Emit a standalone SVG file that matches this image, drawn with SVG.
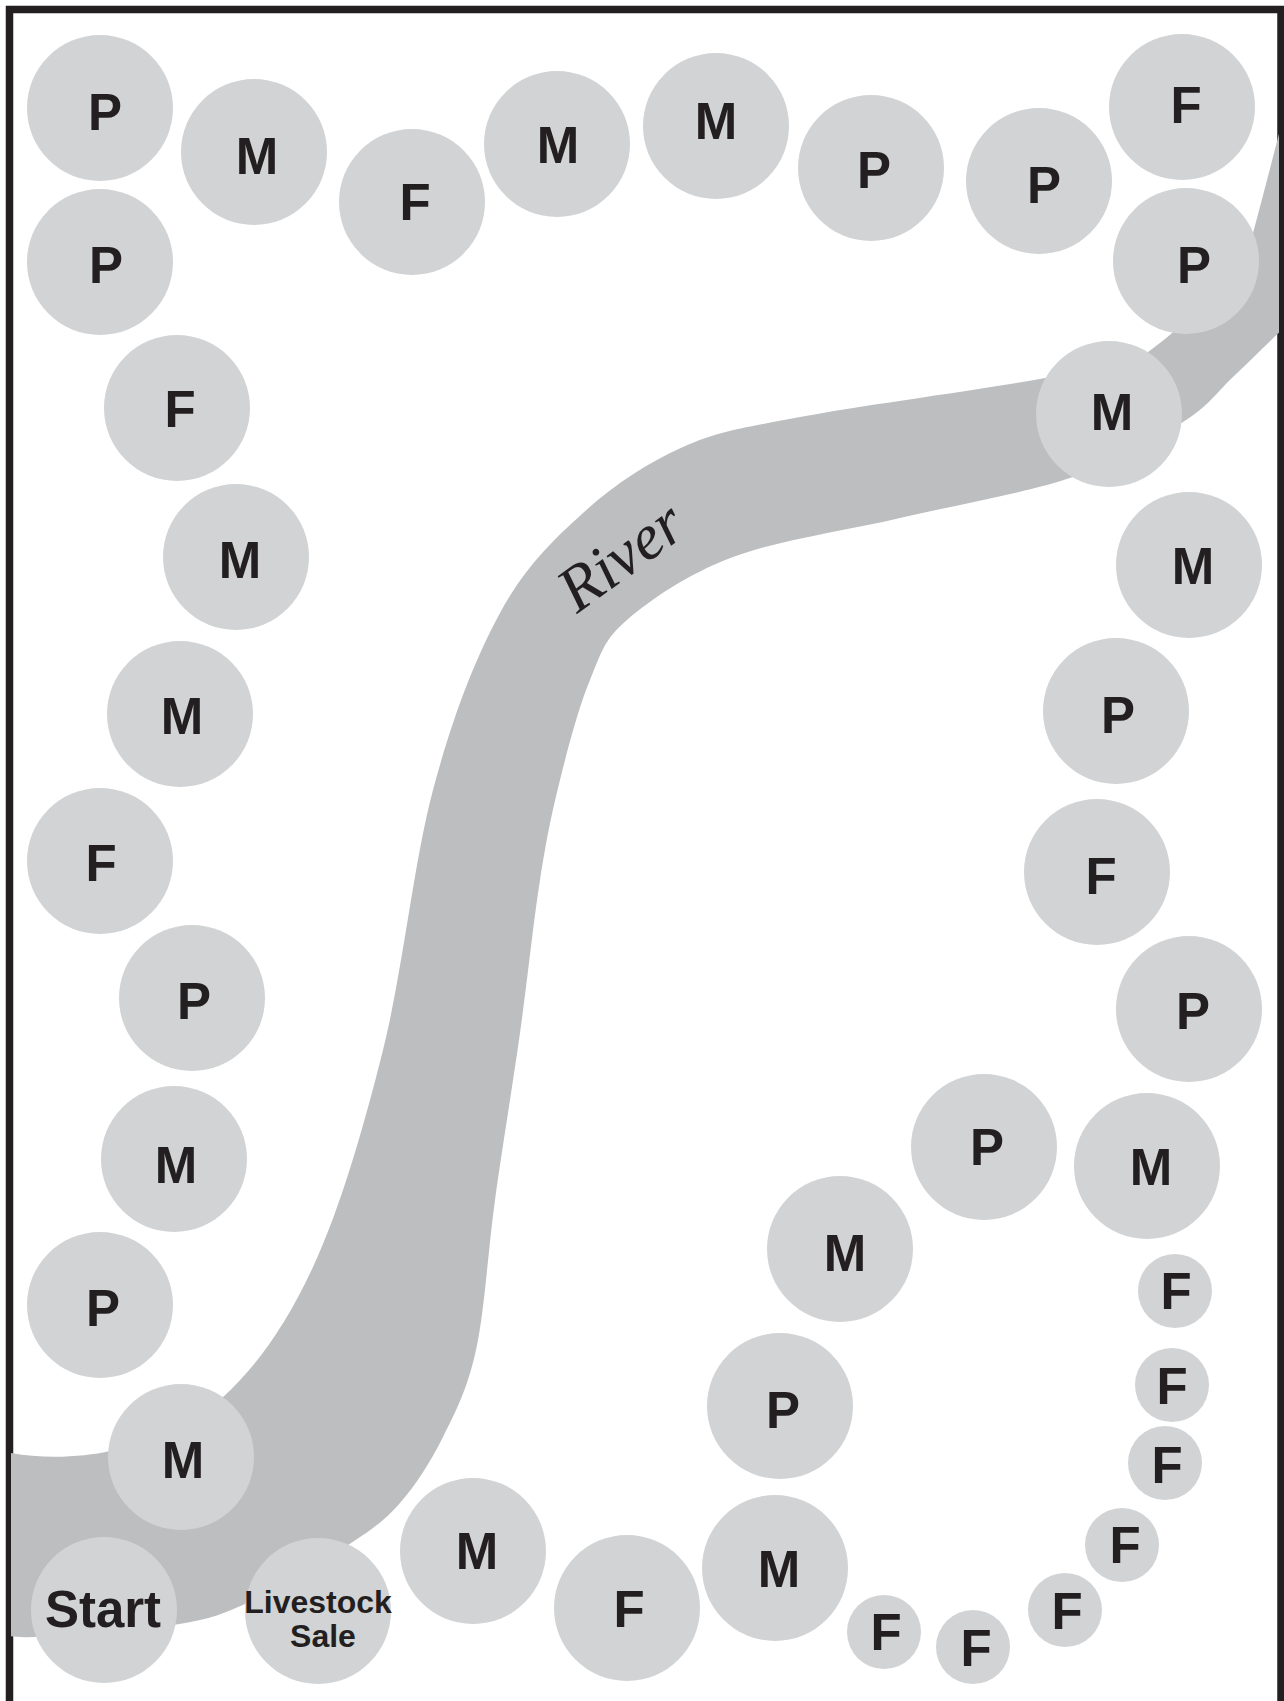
<svg xmlns="http://www.w3.org/2000/svg" width="1284" height="1701" viewBox="0 0 1284 1701">
<style>
.sp{fill:#d1d3d4}
.sm{fill:#d1d3d4}
.t{font-family:"Liberation Sans",Arial,sans-serif;font-weight:bold;font-size:51px;fill:#231f20;text-anchor:middle}
.ts{font-family:"Liberation Sans",Arial,sans-serif;font-weight:bold;font-size:32px;fill:#231f20;text-anchor:middle}
.river{fill:#bcbec0}
.rt{font-family:"Liberation Serif","Times New Roman",serif;font-style:italic;font-size:64px;fill:#231f20}
</style>
<defs>
<clipPath id="inside"><rect x="11" y="11" width="1268" height="1700"/></clipPath>
</defs>
<rect x="0" y="0" width="1284" height="1701" fill="#ffffff"/>
<path id="frame" d="M9.5,1710 L9.5,9.5 L1281,9.5 L1281,1710" fill="none" stroke="#231f20" stroke-width="7.5"/>
<g id="river" clip-path="url(#inside)">
<path class="river" d="M-5,1449 C30,1460 80,1458 110,1451 C148,1442 189,1428 223,1397 C257,1366 286,1325 313,1267 C340,1209 363,1130 383,1050 C403,970 413.5,863 433,790 C452.5,717 475,659 500,613 C525,567 552.5,540.7 583,513 C613.5,485.3 646.8,463 683,447 C719.2,431 739.7,428.5 800,417 C860.3,405.5 987,388.8 1045,378 C1080,371.5 1127.5,366.3 1148,352 C1176.7,332 1241,273 1253,233 C1263,196 1278,138 1285,110 L1300,50 L1300,310 L1290,322 C1271,340 1250.8,360.3 1233,377 C1215.2,393.7 1209.7,405.3 1183,422 C1156.3,438.7 1120.2,461 1073,477 C1025.8,493 956.7,504.7 900,518 C843.3,531.3 778.5,540 733,557 C687.5,574 650.8,599.5 627,620 C603.2,640.5 601.2,653.3 590,680 C578.8,706.7 568.3,746.7 560,780 C551.7,813.3 546.7,837.8 540,880 C533.3,922.2 527.5,979.7 520,1033 C512.5,1086.3 502.3,1147.2 495,1200 C487.7,1252.8 484.7,1310.5 476,1350 C467.3,1389.5 455.7,1411.5 443,1437 C430.3,1462.5 415.8,1485 400,1503 C384.2,1521 373.5,1528.3 348,1545 C322.5,1561.7 276.2,1589.7 247,1603 C217.8,1616.3 208.7,1619.3 173,1625 C137.3,1630.7 62.7,1635.8 33,1637 C3.3,1638.2 1.3,1632.8 -5,1632 Z"/>
<text class="rt" transform="translate(577,614) rotate(-36)">River</text>
</g>
<g id="connectors"></g>
<g id="n1"><circle class="sp" cx="100" cy="108" r="73"/><text class="t" x="105" y="130">P</text></g>
<g id="n2"><circle class="sp" cx="254" cy="152" r="73"/><text class="t" x="257" y="174">M</text></g>
<g id="n3"><circle class="sp" cx="412" cy="202" r="73"/><text class="t" x="415" y="220">F</text></g>
<g id="n4"><circle class="sp" cx="557" cy="144" r="73"/><text class="t" x="558" y="163">M</text></g>
<g id="n5"><circle class="sp" cx="716" cy="126" r="73"/><text class="t" x="716" y="139">M</text></g>
<g id="n6"><circle class="sp" cx="871" cy="168" r="73"/><text class="t" x="874" y="188">P</text></g>
<g id="n7"><circle class="sp" cx="1039" cy="181" r="73"/><text class="t" x="1044" y="203">P</text></g>
<g id="n8"><circle class="sp" cx="1182" cy="107" r="73"/><text class="t" x="1186" y="123">F</text></g>
<g id="n9"><circle class="sp" cx="100" cy="262" r="73"/><text class="t" x="106" y="283">P</text></g>
<g id="n10"><circle class="sp" cx="1186" cy="261" r="73"/><text class="t" x="1194" y="283">P</text></g>
<g id="n11"><circle class="sp" cx="177" cy="408" r="73"/><text class="t" x="180" y="427">F</text></g>
<g id="n12"><circle class="sp" cx="1109" cy="414" r="73"/><text class="t" x="1112" y="430">M</text></g>
<g id="n13"><circle class="sp" cx="236" cy="557" r="73"/><text class="t" x="240" y="578">M</text></g>
<g id="n14"><circle class="sp" cx="1189" cy="565" r="73"/><text class="t" x="1193" y="584">M</text></g>
<g id="n15"><circle class="sp" cx="180" cy="714" r="73"/><text class="t" x="182" y="734">M</text></g>
<g id="n16"><circle class="sp" cx="1116" cy="711" r="73"/><text class="t" x="1118" y="733">P</text></g>
<g id="n17"><circle class="sp" cx="100" cy="861" r="73"/><text class="t" x="101" y="881">F</text></g>
<g id="n18"><circle class="sp" cx="1097" cy="872" r="73"/><text class="t" x="1101" y="894">F</text></g>
<g id="n19"><circle class="sp" cx="192" cy="998" r="73"/><text class="t" x="194" y="1019">P</text></g>
<g id="n20"><circle class="sp" cx="1189" cy="1009" r="73"/><text class="t" x="1193" y="1029">P</text></g>
<g id="n21"><circle class="sp" cx="174" cy="1159" r="73"/><text class="t" x="176" y="1183">M</text></g>
<g id="n22"><circle class="sp" cx="984" cy="1147" r="73"/><text class="t" x="987" y="1165">P</text></g>
<g id="n23"><circle class="sp" cx="1147" cy="1166" r="73"/><text class="t" x="1151" y="1185">M</text></g>
<g id="n24"><circle class="sp" cx="840" cy="1249" r="73"/><text class="t" x="845" y="1271">M</text></g>
<g id="n25"><circle class="sp" cx="100" cy="1305" r="73"/><text class="t" x="103" y="1326">P</text></g>
<g id="n26"><circle class="sp" cx="780" cy="1406" r="73"/><text class="t" x="783" y="1428">P</text></g>
<g id="n27"><circle class="sp" cx="181" cy="1457" r="73"/><text class="t" x="183" y="1478">M</text></g>
<g id="n28"><circle class="sp" cx="473" cy="1551" r="73"/><text class="t" x="477" y="1569">M</text></g>
<g id="n29"><circle class="sp" cx="627" cy="1608" r="73"/><text class="t" x="629" y="1627">F</text></g>
<g id="n30"><circle class="sp" cx="775" cy="1568" r="73"/><text class="t" x="779" y="1587">M</text></g>
<g id="start"><circle class="sp" cx="104" cy="1610" r="73"/><text class="t" x="103" y="1627">Start</text></g>
<g id="livestock-sale"><circle class="sp" cx="318" cy="1611" r="73"/><text class="ts" x="318" y="1613">Livestock</text><text class="ts" x="323" y="1647">Sale</text></g>
<g id="f1"><circle class="sm" cx="1175" cy="1291" r="37"/><text class="t" x="1176" y="1309">F</text></g>
<g id="f2"><circle class="sm" cx="1172" cy="1385" r="37"/><text class="t" x="1172" y="1404">F</text></g>
<g id="f3"><circle class="sm" cx="1165" cy="1463" r="37"/><text class="t" x="1167" y="1483">F</text></g>
<g id="f4"><circle class="sm" cx="1122" cy="1545" r="37"/><text class="t" x="1125" y="1563">F</text></g>
<g id="f5"><circle class="sm" cx="1065" cy="1610" r="37"/><text class="t" x="1067" y="1629">F</text></g>
<g id="f6"><circle class="sm" cx="973" cy="1647" r="37"/><text class="t" x="976" y="1666">F</text></g>
<g id="f7"><circle class="sm" cx="884" cy="1632" r="37"/><text class="t" x="886" y="1650">F</text></g>
</svg>
